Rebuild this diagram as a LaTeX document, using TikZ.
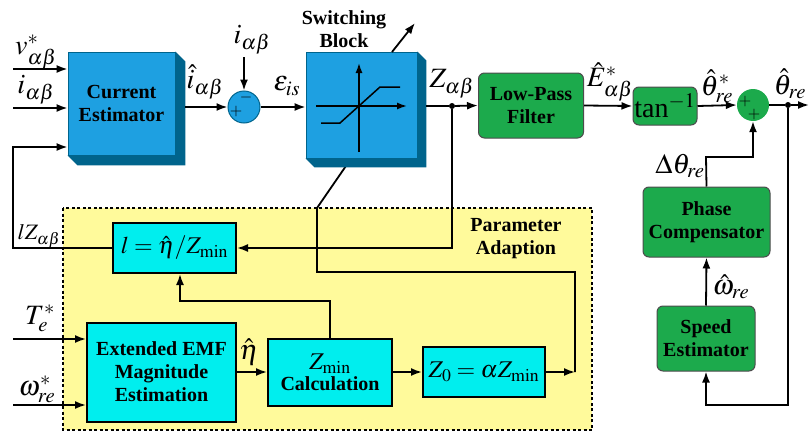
\documentclass[tikz,border=0pt]{standalone}
\usepackage{mathptmx}
\usepackage{fontspec}
\setmainfont{Liberation Serif}
\usetikzlibrary{arrows.meta,calc}
\definecolor{bluef}{RGB}{30,160,225}
\definecolor{blued}{RGB}{0,100,140}
\definecolor{cyanc}{RGB}{0,238,238}
\definecolor{greenc}{RGB}{28,170,76}
\definecolor{yellowc}{RGB}{255,250,155}
\begin{document}
\begin{tikzpicture}[x=1pt,y=-1pt,
  arr/.style={-{Latex[length=11pt,width=8pt]}, line width=1.8pt},
  ln/.style={line width=1.8pt},
  boldtxt/.style={font=\fontsize{20}{23}\selectfont\bfseries, align=center},
  bluebox/.style={draw=blued, line width=0.8pt, fill=bluef, inner sep=0pt, boldtxt},
  cyanbox/.style={draw=black, line width=2pt, fill=cyanc, inner sep=0pt, boldtxt},
  greenbox/.style={draw=black!70, line width=1pt, fill=greenc, rounded corners=6pt, inner sep=0pt, boldtxt},
  mlab/.style={font=\fontsize{28}{30}\selectfont, inner sep=0pt},
  slab/.style={font=\fontsize{22}{24}\selectfont, inner sep=0pt},
  dotc/.style={circle, fill=black, inner sep=0pt, minimum size=6pt}]
\useasboundingbox (0,0) rectangle (809,434);

% parameter adaption region
\draw[line width=1.5pt, fill=yellowc, dash pattern=on 3pt off 2.5pt] (63,208) rectangle (592,430);
\node[boldtxt] (pa) at (516,239) {Parameter\\Adaption};

% top row blocks
\node[bluebox, minimum width=107pt, minimum height=103pt] (ce) at (121.5,103.5) {Current\\Estimator};
\fill[blued] (ce.north east) -- ++(10,10) -- ($(ce.south east)+(10,10)$) -- ($(ce.south west)+(10,10)$) -- (ce.south west) -- (ce.south east) -- cycle;

\node[circle, draw=blued, line width=1pt, fill=bluef, minimum size=32pt, inner sep=0pt] (s1) at (244,107) {};
\node[font=\fontsize{16}{16}\selectfont, inner sep=0pt] at (236,112) {$+$};
\node[font=\fontsize{16}{16}\selectfont, inner sep=0pt] at (246,97) {$-$};

% switching block with parameter line passing behind it
\coordinate (zr) at (575,372);
\coordinate (zc1) at (575,272);
\coordinate (zc2) at (317,272);
\coordinate (zc3) at (317,208);
\coordinate (zc4) at (348,163);
\draw[ln] (zr) -- (zc1) -- (zc2) -- (zc3) -- (zc4);
\node[bluebox, minimum width=111pt, minimum height=106pt] (sb) at (361.5,105) {};
\fill[blued] (sb.north east) -- ++(9,9) -- ($(sb.south east)+(9,9)$) -- ($(sb.south west)+(9,9)$) -- (sb.south west) -- (sb.south east) -- cycle;
\draw[-{Latex[length=10pt,width=7pt]}, line width=1.5pt] (359,152) -- (359,63);
\draw[-{Latex[length=10pt,width=7pt]}, line width=1.5pt] (316,106) -- (407,106);
\draw[line width=1.5pt] (321,123) -- (340,123) -- (380,87) -- (400,87);
\coordinate (sbo) at (415,23);
\draw[arr] (392,52) -- (sbo);
\node[boldtxt] (sbl) at (344,29) {Switching\\Block};

\node[greenbox, minimum width=105pt, minimum height=65pt] (lpf) at (531,105.5) {Low-Pass\\Filter};
\node[greenbox, minimum width=64pt, minimum height=38pt, font=\fontsize{28}{30}\selectfont] (tan) at (665,106) {tan$^{-1}$};
\node[circle, fill=greenc, minimum size=32pt, inner sep=0pt] (s2) at (753,105) {};
\node[font=\fontsize{16}{16}\selectfont, inner sep=0pt] at (745,102) {$+$};
\node[font=\fontsize{16}{16}\selectfont, inner sep=0pt] at (754,115) {$+$};

\node[greenbox, minimum width=127pt, minimum height=70pt] (pc) at (706.5,222) {Phase\\Compensator};
\node[greenbox, minimum width=98pt, minimum height=65pt] (se) at (706,338.5) {Speed\\Estimator};

% parameter adaption blocks
\node[cyanbox, minimum width=123pt, minimum height=50pt, font=\fontsize{24}{26}\selectfont] (lb) at (174.5,248) {$l=\hat{\eta}/Z_{\mathrm{min}}$};
\node[cyanbox, minimum width=149pt, minimum height=99pt] (emf) at (161.5,372) {Extended EMF\\Magnitude\\Estimation};
\node[cyanbox, minimum width=124pt, minimum height=67pt] (zm) at (330,372) {\fontsize{24}{26}\selectfont$Z_{\mathrm{min}}$\\[-2pt]Calculation};
\node[cyanbox, minimum width=122pt, minimum height=50pt, font=\fontsize{24}{26}\selectfont] (z0) at (484,372) {$Z_0=\alpha Z_{\mathrm{min}}$};

% inputs
\coordinate (vin) at (13,69);
\coordinate (iin) at (13,108);
\coordinate (tin) at (13,339);
\coordinate (win) at (13,405);
\draw[arr] (vin) -- (vin -| ce.west);
\draw[arr] (iin) -- (iin -| ce.west);
\draw[arr] (tin) -- (tin -| emf.west);
\draw[arr] (win) -- (win -| emf.west);

% feedback lZ
\coordinate (fb1) at (13,248);
\coordinate (fb2) at (13,147);
\draw[arr] (lb.west) -- (fb1) -- (fb2) -- (fb2 -| ce.west);

% top signal path
\coordinate (ceo) at (185,107);
\draw[arr] (ceo) -- (s1.west);
\coordinate (iab) at (244,57);
\draw[arr] (iab) -- (s1.north);
\draw[arr] (s1.east) -- (s1.east -| sb.west);
\coordinate (sbe) at (426,106);
\node[dotc] (d1) at (452,106) {};
\draw[ln] (sbe) -- (d1);
\draw[arr] (d1) -- (lpf.west);
\coordinate (d1b) at (452,248);
\draw[arr] (d1) -- (d1b) -- (lb.east);
\draw[arr] (lpf.east) -- (tan.west);
\draw[arr] (tan.east) -- (s2.west);
\node[dotc] (d2) at (788,105) {};
\coordinate (outr) at (809,105);
\draw[ln] (s2.east) -- (d2);
\draw[arr] (d2) -- (outr);
\coordinate (fbr1) at (788,405);
\coordinate (fbr2) at (706,405);
\draw[arr] (d2) -- (fbr1) -- (fbr2) -- (se.south);
\draw[arr] (se.north) -- (pc.south);
\coordinate (pcu) at (706,157);
\draw[arr] (pc.north) -- (pcu) -- (pcu -| s2.south) -- (s2.south);

% parameter adaption connections
\draw[arr] (emf.east) -- (zm.west);
\draw[arr] (zm.east) -- (z0.west);
\draw[arr] (z0.east) -- (zr);
\coordinate (zu) at (330,301);
\coordinate (lu) at (180,301);
\draw[arr] (zm.north) -- (zu) -- (lu) -- (lu |- lb.south);

% labels
\node[mlab] at (36,52) {$v^{*}_{\alpha\beta}$};
\node[mlab] at (36,90) {$i_{\alpha\beta}$};
\node[mlab] at (205,82) {$\hat{i}_{\alpha\beta}$};
\node[mlab] at (252,40) {$i_{\alpha\beta}$};
\node[mlab] at (287,86) {$\varepsilon_{is}$};
\node[mlab] at (452,84) {$Z_{\alpha\beta}$};
\node[mlab] at (610,82) {$\hat{E}^{*}_{\alpha\beta}$};
\node[mlab] at (717,86) {$\hat{\theta}^{*}_{re}$};
\node[mlab] at (790,84) {$\hat{\theta}_{re}$};
\node[mlab] at (680,166) {$\Delta\theta_{re}$};
\node[mlab] at (731,287) {$\hat{\omega}_{re}$};
\node[slab] at (39,236) {$lZ_{\alpha\beta}$};
\node[mlab] at (40,318) {$T^{*}_{e}$};
\node[mlab] at (37,389) {$\omega^{*}_{re}$};
\node[mlab] at (249,352) {$\hat{\eta}$};
\end{tikzpicture}
\end{document}
